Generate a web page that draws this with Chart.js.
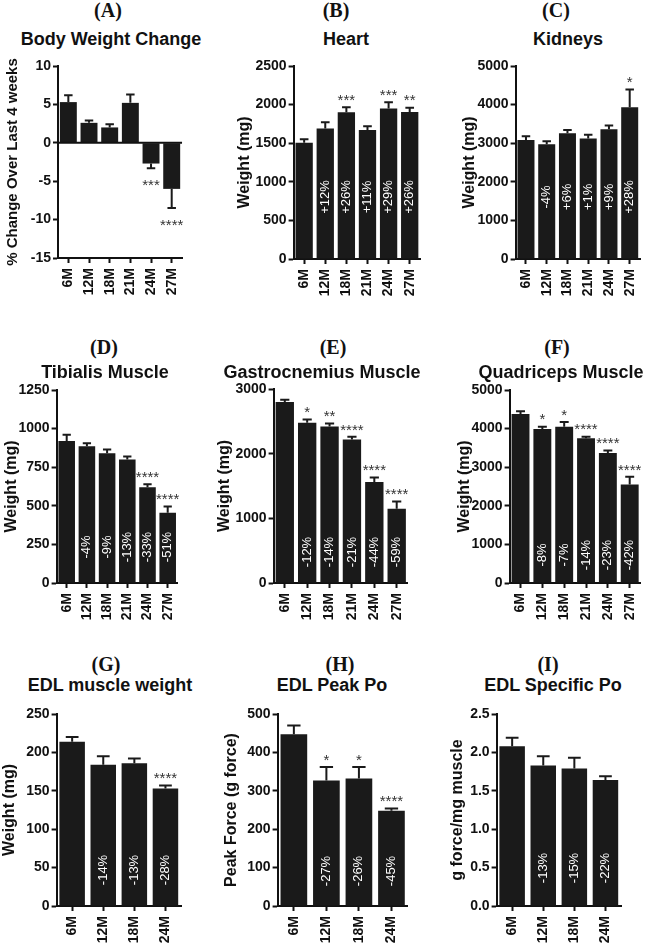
<!DOCTYPE html>
<html>
<head>
<meta charset="utf-8">
<script src="https://cdn.jsdelivr.net/npm/chart.js"></script>
<style>
  html, body { margin: 0; padding: 0; width: 650px; height: 944px; overflow: hidden; background: #fff; }
  canvas { position: absolute; }
  .tag, .ttl { position: absolute; width: 260px; text-align: center; line-height: 1; white-space: nowrap; color: #111; }
  .tag { font: bold 20px "Liberation Serif", "Times New Roman", serif; }
  .ttl { font: bold 18px "Liberation Sans", Arial, sans-serif; }
</style>
</head>
<body>
<script>
// categories
const monthsSix = ['6M', '12M', '18M', '21M', '24M', '27M'];
const monthsFour = ['6M', '12M', '18M', '24M'];

// (A) body weight change, %
const bodyMean = [5.3, 2.6, 2.0, 5.2, -2.7, -6.0];
const bodySem = [0.9, 0.3, 0.4, 1.1, 0.6, 2.5];
const bodyStars = ['', '', '', '', '***', '****'];

// (B) heart, mg
const heartMean = [1505, 1690, 1900, 1670, 1950, 1905];
const heartSem = [45, 80, 65, 50, 80, 55];
const heartStars = ['', '', '***', '', '***', '**'];
const heartPct = ['', '+12%', '+26%', '+11%', '+29%', '+26%'];

// (C) kidneys, mg
const kidneyMean = [3080, 2970, 3260, 3120, 3360, 3930];
const kidneySem = [100, 80, 80, 100, 100, 460];
const kidneyStars = ['', '', '', '', '', '*'];
const kidneyPct = ['', '-4%', '+6%', '+1%', '+9%', '+28%'];

// (D) tibialis, mg
const tibialisMean = [920, 885, 840, 800, 620, 455];
const tibialisSem = [40, 20, 25, 20, 20, 40];
const tibialisStars = ['', '', '', '', '****', '****'];
const tibialisPct = ['', '-4%', '-9%', '-13%', '-33%', '-51%'];

// (E) gastrocnemius, mg
const gastrocMean = [2800, 2480, 2420, 2220, 1560, 1150];
const gastrocSem = [35, 50, 45, 40, 70, 110];
const gastrocStars = ['', '*', '**', '****', '****', '****'];
const gastrocPct = ['', '-12%', '-14%', '-21%', '-44%', '-59%'];

// (F) quadriceps, mg
const quadMean = [4380, 3990, 4050, 3750, 3370, 2550];
const quadSem = [70, 60, 120, 40, 60, 200];
const quadStars = ['', '*', '*', '****', '****', '****'];
const quadPct = ['', '-8%', '-7%', '-14%', '-23%', '-42%'];

// (G) EDL weight, mg
const edlMean = [214, 184, 186, 153];
const edlSem = [6, 11, 6, 4];
const edlStars = ['', '', '', '****'];
const edlPct = ['', '-14%', '-13%', '-28%'];

// (H) EDL peak force, g
const peakMean = [447, 327, 332, 248];
const peakSem = [23, 35, 30, 6];
const peakStars = ['', '*', '*', '****'];
const peakPct = ['', '-27%', '-26%', '-45%'];

// (I) EDL specific force, g/mg
const specMean = [2.08, 1.83, 1.79, 1.64];
const specSem = [0.11, 0.12, 0.14, 0.05];
const specStars = ['', '', '', ''];
const specPct = ['', '-13%', '-15%', '-22%'];

const ink = '#111';
const barInk = '#1a1a1a';
const sans = '"Liberation Sans", Arial, sans-serif';
const tickFont = { family: sans, size: 14, weight: 'bold' };

// box = plot area [left, top, right, bottom] on the page
const panels = [
  { tag: '(A)', title: 'Body Weight Change', yTitle: '% Change Over Last 4 weeks', yTitleSize: 15, labels: monthsSix,
    mean: bodyMean, sem: bodySem, stars: bodyStars, pct: null, min: -15, max: 10, step: 5,
    box: [58, 66, 188, 258], yTitleX: 13, tagAt: [108, 11], titleAt: [111, 38], pctLift: 0 },
  { tag: '(B)', title: 'Heart', yTitle: 'Weight (mg)', labels: monthsSix,
    mean: heartMean, sem: heartSem, stars: heartStars, pct: heartPct, min: 0, max: 2500, step: 500,
    box: [294, 66, 427, 259], yTitleX: 245, tagAt: [336, 11], titleAt: [346, 38], pctLift: 62 },
  { tag: '(C)', title: 'Kidneys', yTitle: 'Weight (mg)', labels: monthsSix,
    mean: kidneyMean, sem: kidneySem, stars: kidneyStars, pct: kidneyPct, min: 0, max: 5000, step: 1000,
    box: [516, 66, 647, 259], yTitleX: 470, tagAt: [556, 11], titleAt: [568, 38], pctLift: 62 },
  { tag: '(D)', title: 'Tibialis Muscle', yTitle: 'Weight (mg)', labels: monthsSix,
    mean: tibialisMean, sem: tibialisSem, stars: tibialisStars, pct: tibialisPct, min: 0, max: 1250, step: 250,
    box: [57, 390, 185, 583], yTitleX: 12, tagAt: [104, 348], titleAt: [105, 371], pctLift: 36 },
  { tag: '(E)', title: 'Gastrocnemius Muscle', yTitle: 'Weight (mg)', labels: monthsSix,
    mean: gastrocMean, sem: gastrocSem, stars: gastrocStars, pct: gastrocPct, min: 0, max: 3000, step: 1000,
    box: [274, 389, 414, 583], yTitleX: 225, tagAt: [333, 348], titleAt: [322, 371], pctLift: 31 },
  { tag: '(F)', title: 'Quadriceps Muscle', yTitle: 'Weight (mg)', labels: monthsSix,
    mean: quadMean, sem: quadSem, stars: quadStars, pct: quadPct, min: 0, max: 5000, step: 1000,
    box: [510, 390, 647, 583], yTitleX: 465, tagAt: [557, 348], titleAt: [561, 371], pctLift: 28 },
  { tag: '(G)', title: 'EDL muscle weight', yTitle: 'Weight (mg)', labels: monthsFour,
    mean: edlMean, sem: edlSem, stars: edlStars, pct: edlPct, min: 0, max: 250, step: 50,
    box: [57, 714, 183, 906], yTitleX: 10, tagAt: [106, 665], titleAt: [110, 684], pctLift: 36 },
  { tag: '(H)', title: 'EDL Peak Po', yTitle: 'Peak Force (g force)', labels: monthsFour,
    mean: peakMean, sem: peakSem, stars: peakStars, pct: peakPct, min: 0, max: 500, step: 100,
    box: [278, 714, 409, 906], yTitleX: 232, tagAt: [340, 665], titleAt: [332, 684], pctLift: 35 },
  { tag: '(I)', title: 'EDL Specific Po', yTitle: 'g force/mg muscle', labels: monthsFour,
    mean: specMean, sem: specSem, stars: specStars, pct: specPct, min: 0, max: 2.5, step: 0.5, decimals: 1,
    box: [497, 714, 623, 906], yTitleX: 458, tagAt: [548, 665], titleAt: [553, 684], pctLift: 38 }
];

// error bars, zero line, significance stars and % labels
function annotator(p) {
  return {
    id: 'annotate',
    afterDatasetsDraw(chart) {
      const ctx = chart.ctx;
      const y = chart.scales.y;
      const area = chart.chartArea;
      ctx.save();
      if (y.min < 0) {
        const zy = y.getPixelForValue(0);
        ctx.strokeStyle = ink;
        ctx.lineWidth = 2;
        ctx.beginPath();
        ctx.moveTo(area.left, zy);
        ctx.lineTo(area.right, zy);
        ctx.stroke();
      }
      chart.getDatasetMeta(0).data.forEach((bar, i) => {
        const m = p.mean[i], s = p.sem[i];
        const up = m >= 0;
        const tip = y.getPixelForValue(up ? m + s : m - s);
        const cap = bar.width * 0.5;
        ctx.strokeStyle = barInk;
        ctx.lineWidth = 2;
        ctx.beginPath();
        ctx.moveTo(bar.x, bar.y);
        ctx.lineTo(bar.x, tip);
        ctx.moveTo(bar.x - cap / 2, tip);
        ctx.lineTo(bar.x + cap / 2, tip);
        ctx.stroke();

        if (p.stars[i]) {
          ctx.font = '15px ' + sans;
          ctx.fillStyle = '#333';
          ctx.textAlign = 'center';
          ctx.textBaseline = 'alphabetic';
          const sy = up ? tip - 11 + 8.7 : tip + 13 + 8.7;
          ctx.fillText(p.stars[i], bar.x, sy);
        }
        if (p.pct && p.pct[i]) {
          ctx.save();
          ctx.translate(bar.x, area.bottom - p.pctLift);
          ctx.rotate(-Math.PI / 2);
          ctx.font = '13px ' + sans;
          ctx.fillStyle = '#fff';
          ctx.textAlign = 'center';
          ctx.textBaseline = 'middle';
          ctx.fillText(p.pct[i], 0, 0);
          ctx.restore();
        }
      });
      ctx.restore();
    }
  };
}

function addText(cls, text, cx, top) {
  const d = document.createElement('div');
  d.className = cls;
  d.textContent = text;
  d.style.left = (cx - 130) + 'px';
  d.style.top = top + 'px';
  document.body.appendChild(d);
}

panels.forEach(p => {
  const [pl, pt, pr, pb] = p.box;
  const yTitleSize = p.yTitleSize || 16;
  const left = p.yTitleX - yTitleSize * 0.6;
  const top = pt - 14;
  const xAxisH = 45;
  const padRight = 6;
  const yAxisW = pl - left;

  const canvas = document.createElement('canvas');
  canvas.width = pr - left + padRight;
  canvas.height = pb - top + xAxisH;
  canvas.style.left = left + 'px';
  canvas.style.top = top + 'px';
  document.body.appendChild(canvas);

  addText('tag', p.tag, p.tagAt[0], p.tagAt[1] - 12);
  addText('ttl', p.title, p.titleAt[0], p.titleAt[1] - 9);

  new Chart(canvas, {
    type: 'bar',
    data: {
      labels: p.labels,
      datasets: [{ data: p.mean, backgroundColor: barInk, barPercentage: 0.82, categoryPercentage: 1 }]
    },
    options: {
      responsive: false,
      animation: false,
      events: [],
      layout: { padding: { top: 14, right: padRight, left: 0, bottom: 0 } },
      plugins: { legend: { display: false }, tooltip: { enabled: false } },
      scales: {
        x: {
          offset: true,
          grid: { drawOnChartArea: false, offset: false, color: ink, tickLength: 5, tickWidth: 2 },
          border: { color: ink, width: 2 },
          ticks: { minRotation: 90, maxRotation: 90, autoSkip: false, padding: 5, color: ink, font: tickFont },
          afterFit: s => { s.height = xAxisH; }
        },
        y: {
          min: p.min,
          max: p.max,
          grid: { drawOnChartArea: false, color: ink, tickLength: 5, tickWidth: 2 },
          border: { color: ink, width: 2 },
          ticks: {
            stepSize: p.step, padding: 2, color: ink, font: tickFont,
            callback: v => p.decimals ? v.toFixed(p.decimals) : v
          },
          title: { display: true, text: p.yTitle, color: ink, padding: 0, font: { family: sans, size: yTitleSize, weight: 'bold' } },
          afterFit: s => { s.width = yAxisW; }
        }
      }
    },
    plugins: [annotator(p)]
  });
});
</script>
</body>
</html>
